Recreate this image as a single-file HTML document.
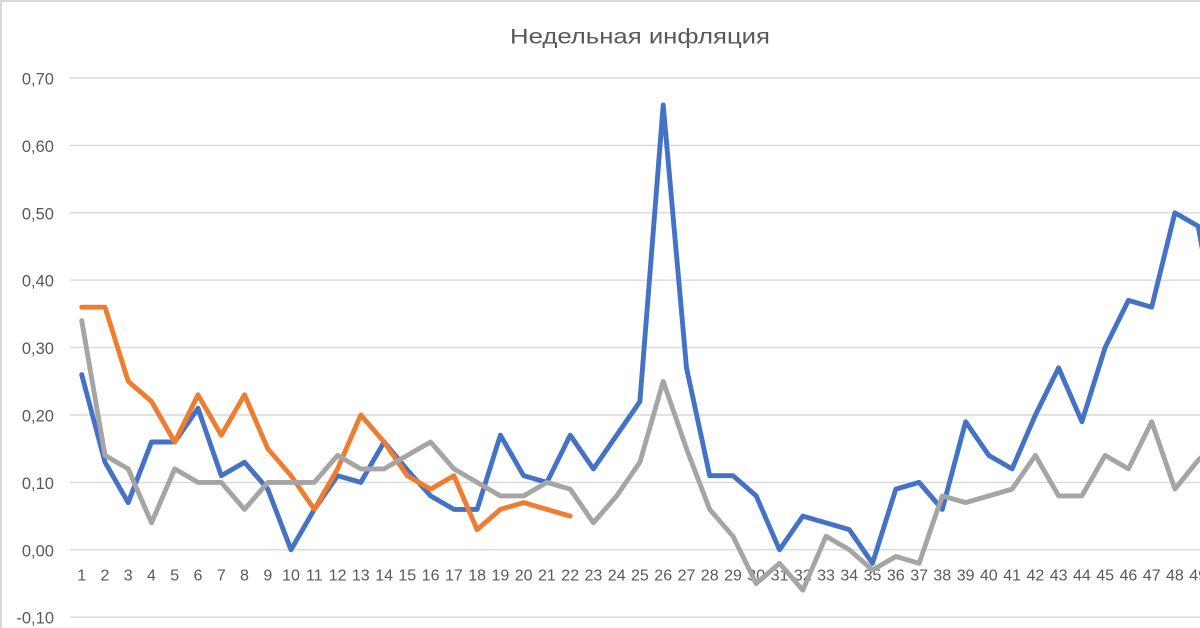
<!DOCTYPE html>
<html><head><meta charset="utf-8"><style>
html,body{margin:0;padding:0;background:#fff;}
svg{display:block;}
text{font-family:"Liberation Sans",Arial,sans-serif;fill:#595959;}
</style></head><body>
<svg width="1200" height="628" viewBox="0 0 1200 628" xmlns="http://www.w3.org/2000/svg">
<rect x="0" y="0" width="1200" height="628" fill="#fff"/>
<line x1="1" y1="0" x2="1" y2="628" stroke="#d9d9d9" stroke-width="2"/>
<line x1="0" y1="1" x2="1200" y2="1" stroke="#d9d9d9" stroke-width="2"/>
<text x="640" y="43.5" font-size="21" text-anchor="middle" textLength="260" lengthAdjust="spacingAndGlyphs">Недельная инфляция</text>
<g stroke="#d9d9d9" stroke-width="1.4">
<line x1="70" y1="78" x2="1200" y2="78"/>
<line x1="70" y1="145.4" x2="1200" y2="145.4"/>
<line x1="70" y1="212.8" x2="1200" y2="212.8"/>
<line x1="70" y1="280.2" x2="1200" y2="280.2"/>
<line x1="70" y1="347.6" x2="1200" y2="347.6"/>
<line x1="70" y1="415" x2="1200" y2="415"/>
<line x1="70" y1="482.4" x2="1200" y2="482.4"/>
<line x1="70" y1="549.8" x2="1200" y2="549.8"/>
<line x1="70" y1="617.2" x2="1200" y2="617.2"/>
</g>
<g font-size="16.5" text-anchor="end">
<text x="54" y="84.5">0,70</text>
<text x="54" y="151.9">0,60</text>
<text x="54" y="219.3">0,50</text>
<text x="54" y="286.7">0,40</text>
<text x="54" y="354.1">0,30</text>
<text x="54" y="421.5">0,20</text>
<text x="54" y="488.9">0,10</text>
<text x="54" y="556.3">0,00</text>
<text x="54" y="623.7">-0,10</text>
</g>
<g font-size="16" text-anchor="middle">
<text x="81.7" y="580.5">1</text><text x="105.0" y="580.5">2</text><text x="128.2" y="580.5">3</text><text x="151.5" y="580.5">4</text><text x="174.7" y="580.5">5</text><text x="198.0" y="580.5">6</text><text x="221.3" y="580.5">7</text><text x="244.5" y="580.5">8</text><text x="267.8" y="580.5">9</text><text x="291.0" y="580.5">10</text><text x="314.3" y="580.5">11</text><text x="337.6" y="580.5">12</text><text x="360.8" y="580.5">13</text><text x="384.1" y="580.5">14</text><text x="407.3" y="580.5">15</text><text x="430.6" y="580.5">16</text><text x="453.9" y="580.5">17</text><text x="477.1" y="580.5">18</text><text x="500.4" y="580.5">19</text><text x="523.6" y="580.5">20</text><text x="546.9" y="580.5">21</text><text x="570.2" y="580.5">22</text><text x="593.4" y="580.5">23</text><text x="616.7" y="580.5">24</text><text x="639.9" y="580.5">25</text><text x="663.2" y="580.5">26</text><text x="686.5" y="580.5">27</text><text x="709.7" y="580.5">28</text><text x="733.0" y="580.5">29</text><text x="756.2" y="580.5">30</text><text x="779.5" y="580.5">31</text><text x="802.8" y="580.5">32</text><text x="826.0" y="580.5">33</text><text x="849.3" y="580.5">34</text><text x="872.5" y="580.5">35</text><text x="895.8" y="580.5">36</text><text x="919.1" y="580.5">37</text><text x="942.3" y="580.5">38</text><text x="965.6" y="580.5">39</text><text x="988.8" y="580.5">40</text><text x="1012.1" y="580.5">41</text><text x="1035.4" y="580.5">42</text><text x="1058.6" y="580.5">43</text><text x="1081.9" y="580.5">44</text><text x="1105.1" y="580.5">45</text><text x="1128.4" y="580.5">46</text><text x="1151.7" y="580.5">47</text><text x="1174.9" y="580.5">48</text><text x="1198.2" y="580.5">49</text>
</g>
<g fill="none" stroke-width="4.9" stroke-linejoin="round" stroke-linecap="round">
<polyline stroke="#4472C4" points="81.7,374.6 105.0,462.2 128.2,502.6 151.5,442.0 174.7,442.0 198.0,408.3 221.3,475.7 244.5,462.2 267.8,489.1 291.0,549.8 314.3,509.4 337.6,475.7 360.8,482.4 384.1,442.0 407.3,470.0 430.6,495.9 453.9,509.4 477.1,509.4 500.4,435.2 523.6,475.7 546.9,482.4 570.2,435.2 593.4,468.9 616.7,435.2 639.9,401.5 663.2,105.0 686.5,367.8 709.7,475.7 733.0,475.7 756.2,495.9 779.5,549.8 802.8,516.1 826.0,522.8 849.3,529.6 872.5,563.3 895.8,489.1 919.1,482.4 942.3,509.4 965.6,421.7 988.8,455.4 1012.1,468.9 1035.4,415.0 1058.6,367.8 1081.9,421.7 1105.1,347.6 1128.4,300.4 1151.7,307.2 1174.9,212.8 1198.2,226.3 1221.4,354.3"/>
<polyline stroke="#ED7D31" points="81.7,307.2 105.0,307.2 128.2,381.3 151.5,401.5 174.7,442.0 198.0,394.8 221.3,435.2 244.5,394.8 267.8,448.7 291.0,475.7 314.3,509.4 337.6,468.9 360.8,415.0 384.1,442.0 407.3,475.7 430.6,489.1 453.9,475.7 477.1,529.6 500.4,509.4 523.6,502.6 546.9,509.4 570.2,516.1"/>
<polyline stroke="#A5A5A5" points="81.7,320.6 105.0,455.4 128.2,468.9 151.5,522.8 174.7,468.9 198.0,482.4 221.3,482.4 244.5,509.4 267.8,482.4 291.0,482.4 314.3,482.4 337.6,455.4 360.8,468.9 384.1,468.9 407.3,455.4 430.6,442.0 453.9,468.9 477.1,482.4 500.4,495.9 523.6,495.9 546.9,482.4 570.2,489.1 593.4,522.8 616.7,495.9 639.9,462.2 663.2,381.3 686.5,448.7 709.7,509.4 733.0,536.3 756.2,583.5 779.5,563.3 802.8,590.2 826.0,536.3 849.3,549.8 872.5,570.0 895.8,556.5 919.1,563.3 942.3,495.9 965.6,502.6 988.8,495.9 1012.1,489.1 1035.4,455.4 1058.6,495.9 1081.9,495.9 1105.1,455.4 1128.4,468.9 1151.7,421.7 1174.9,489.1 1198.2,460.2 1221.4,440.0"/>
</g>
</svg>
</body></html>
